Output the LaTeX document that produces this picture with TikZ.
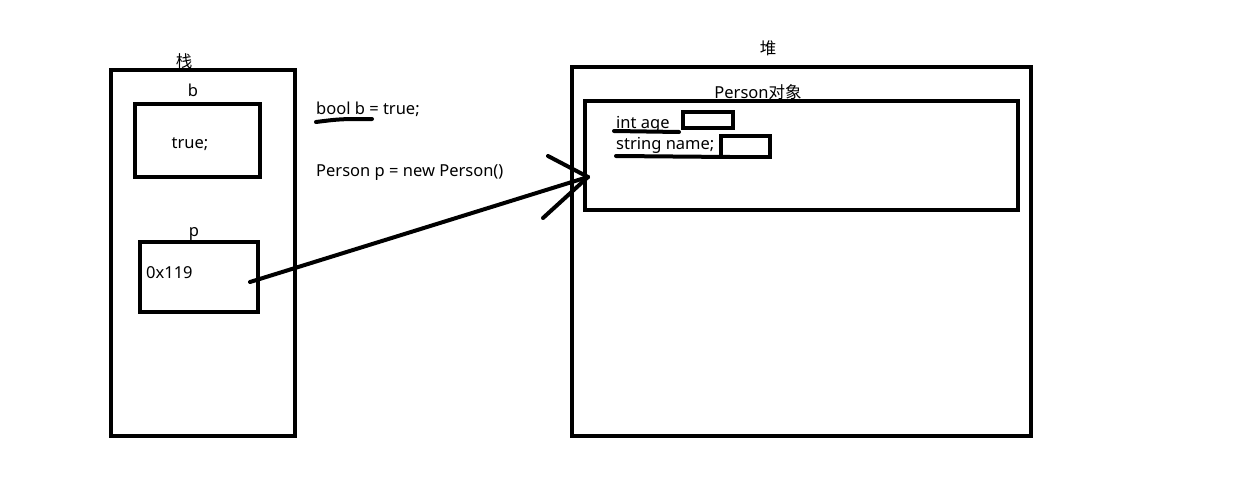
\documentclass[tikz,border=0pt]{standalone}
\usepackage{fontspec}
\setmainfont{Noto Sans}
\newfontfamily\cjk{Noto Sans CJK SC}
\begin{document}
\begin{tikzpicture}[x=1pt,y=-1pt,
  thick box/.style={draw=black,line width=4.5pt,fill=none},
  small box/.style={draw=black,line width=3.5pt},
  lbl/.style={inner sep=0pt,font=\fontsize{16.5}{20}\selectfont},
  stroke/.style={line width=4pt,line cap=round}]
\useasboundingbox[fill=white] (0,0) rectangle (1251,503);
% stack
\draw[thick box] (111,70) rectangle (295,436);
\node[lbl] (stacklbl) at (184,61) {\cjk 栈};
\draw[thick box] (135,104) rectangle (260,177);
\node[lbl] (blbl) at (193,90) {b};
\node[lbl] (bval) at (190,144) {true;};
\draw[thick box] (140,242) rectangle (258,312);
\node[lbl] (plbl) at (194,234) {p};
\node[lbl,anchor=west] (pval) at (146,273) {0x119};
% code text
\node[lbl,anchor=west] (code1) at (316,109) {bool b = true;};
\draw[stroke] (316,122) .. controls (340,119) .. (372,119);
\node[lbl,anchor=west] (code2) at (316,173) {Person p = new Person()};
% heap
\draw[thick box] (572,67) rectangle (1031,436);
\node[lbl] (heaplbl) at (768,48) {\cjk 堆};
\draw[thick box] (585,101) rectangle (1018,210);
\node[lbl] (objlbl) at (758,92) {Person{\cjk 对象}};
\node[lbl,anchor=west] (age) at (616,124) {int age};
\draw[small box] (683,112) rectangle (733,128);
\draw[stroke] (614,131) -- (679,132);
\node[lbl,anchor=west] (name) at (616,145) {string name;};
\draw[small box] (721,136) rectangle (770,157);
\draw[stroke] (616,156) -- (730,157);
% arrow
\coordinate (pstart) at (250,282);
\coordinate (pend) at (588,177);
\draw[stroke] (pstart) -- (pend);
\draw[stroke] (548,156) -- (pend);
\draw[stroke] (543,218) -- (pend);
\end{tikzpicture}
\end{document}
